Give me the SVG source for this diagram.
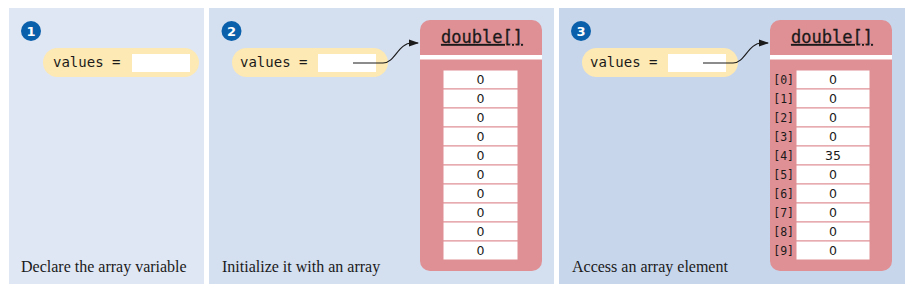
<svg xmlns="http://www.w3.org/2000/svg" width="914" height="293" viewBox="0 0 914 293">
<style>
.pill{fill:#fde9b3}
.box{fill:#ffffff}
.arr{fill:#df9095}
.cell{fill:#ffffff;stroke:#df9095;stroke-width:1}
.num{fill:#0b60ab}
.numt{font-family:"DejaVu Sans",sans-serif;font-weight:bold;font-size:13px;fill:#ffffff;text-anchor:middle}
.code{font-family:"DejaVu Sans Mono",monospace;font-size:14px;fill:#1a1a1a}
.hdr{font-family:"DejaVu Sans Mono",monospace;font-size:17px;fill:#1a1a1a;text-anchor:middle;text-decoration:underline;stroke:#1a1a1a;stroke-width:0.3}
.val{font-family:"DejaVu Sans",sans-serif;font-size:12.5px;fill:#1a1a1a;text-anchor:middle}
.idx{font-family:"DejaVu Sans Mono",monospace;font-size:11.5px;fill:#1a1a1a;text-anchor:end}
.cap{font-family:"Liberation Serif",serif;font-size:16px;fill:#1a1a1a}
.link{fill:none;stroke:#1a1a1a;stroke-width:1.2}
</style>
<defs>
<marker id="ah" markerWidth="10" markerHeight="8" refX="9" refY="4" orient="auto" markerUnits="userSpaceOnUse">
<path d="M0,0.5 L10,4 L0,7.5 Z" fill="#1a1a1a"/>
</marker>
</defs>
<rect x="0" y="0" width="914" height="293" fill="#ffffff"/>
<rect x="9" y="8" width="195" height="276" fill="#e0e7f4"/>
<rect x="209" y="8" width="345" height="276" fill="#d4dff0"/>
<rect x="559" y="8" width="346" height="276" fill="#c8d6ec"/>

<g id="step1">
<circle class="num" cx="31" cy="31" r="10"/>
<text class="numt" x="31" y="35.5">1</text>
<rect class="pill" x="43" y="48" width="156" height="29" rx="14.5"/>
<rect class="box" x="132" y="54" width="58" height="18"/>
<text class="code" x="53" y="67">values =</text>
<text class="cap" x="21" y="272">Declare the array variable</text>
</g>

<g id="step2">
<circle class="num" cx="231.5" cy="31" r="10"/>
<text class="numt" x="231.5" y="35.5">2</text>
<rect class="pill" x="232" y="48" width="156" height="29" rx="14.5"/>
<rect class="box" x="318" y="54" width="58" height="18"/>
<text class="code" x="240" y="67">values =</text>
<text class="cap" x="222" y="272">Initialize it with an array</text>
</g>

<g id="array2">
<rect class="arr" x="420" y="20" width="122" height="251" rx="10"/>
<rect x="420" y="55" width="122" height="4.5" fill="#ffffff"/>
<text class="hdr" x="482" y="43">double[]</text>
<rect class="cell" x="443" y="70" width="75" height="19"/>
<rect class="cell" x="443" y="89" width="75" height="19"/>
<rect class="cell" x="443" y="108" width="75" height="19"/>
<rect class="cell" x="443" y="127" width="75" height="19"/>
<rect class="cell" x="443" y="146" width="75" height="19"/>
<rect class="cell" x="443" y="165" width="75" height="19"/>
<rect class="cell" x="443" y="184" width="75" height="19"/>
<rect class="cell" x="443" y="203" width="75" height="19"/>
<rect class="cell" x="443" y="222" width="75" height="19"/>
<rect class="cell" x="443" y="241" width="75" height="19"/>
<text class="val" x="480.5" y="84">0</text>
<text class="val" x="480.5" y="103">0</text>
<text class="val" x="480.5" y="122">0</text>
<text class="val" x="480.5" y="141">0</text>
<text class="val" x="480.5" y="160">0</text>
<text class="val" x="480.5" y="179">0</text>
<text class="val" x="480.5" y="198">0</text>
<text class="val" x="480.5" y="217">0</text>
<text class="val" x="480.5" y="236">0</text>
<text class="val" x="480.5" y="255">0</text>
</g>

<g id="step3">
<circle class="num" cx="581" cy="31" r="10"/>
<text class="numt" x="581" y="35.5">3</text>
<rect class="pill" x="582" y="48" width="156" height="29" rx="14.5"/>
<rect class="box" x="668" y="54" width="58" height="18"/>
<text class="code" x="590" y="67">values =</text>
<text class="cap" x="572" y="272">Access an array element</text>
</g>

<g id="array3">
<rect class="arr" x="770" y="20" width="122" height="251" rx="10"/>
<rect x="770" y="55" width="122" height="4.5" fill="#ffffff"/>
<text class="hdr" x="832" y="43">double[]</text>
<rect class="cell" x="796" y="70" width="74" height="19"/>
<rect class="cell" x="796" y="89" width="74" height="19"/>
<rect class="cell" x="796" y="108" width="74" height="19"/>
<rect class="cell" x="796" y="127" width="74" height="19"/>
<rect class="cell" x="796" y="146" width="74" height="19"/>
<rect class="cell" x="796" y="165" width="74" height="19"/>
<rect class="cell" x="796" y="184" width="74" height="19"/>
<rect class="cell" x="796" y="203" width="74" height="19"/>
<rect class="cell" x="796" y="222" width="74" height="19"/>
<rect class="cell" x="796" y="241" width="74" height="19"/>
<text class="idx" x="794" y="84">[0]</text>
<text class="idx" x="794" y="103">[1]</text>
<text class="idx" x="794" y="122">[2]</text>
<text class="idx" x="794" y="141">[3]</text>
<text class="idx" x="794" y="160">[4]</text>
<text class="idx" x="794" y="179">[5]</text>
<text class="idx" x="794" y="198">[6]</text>
<text class="idx" x="794" y="217">[7]</text>
<text class="idx" x="794" y="236">[8]</text>
<text class="idx" x="794" y="255">[9]</text>
<text class="val" x="833" y="84">0</text>
<text class="val" x="833" y="103">0</text>
<text class="val" x="833" y="122">0</text>
<text class="val" x="833" y="141">0</text>
<text class="val" x="833" y="160">35</text>
<text class="val" x="833" y="179">0</text>
<text class="val" x="833" y="198">0</text>
<text class="val" x="833" y="217">0</text>
<text class="val" x="833" y="236">0</text>
<text class="val" x="833" y="255">0</text>
</g>

<g id="connectors">
<path class="link" d="M353,63 L383,63 C395,63 398,43 412,43 L418,43" marker-end="url(#ah)"/>
<path class="link" d="M703,63 L733,63 C745,63 748,43 762,43 L768,43" marker-end="url(#ah)"/>
</g>
</svg>
